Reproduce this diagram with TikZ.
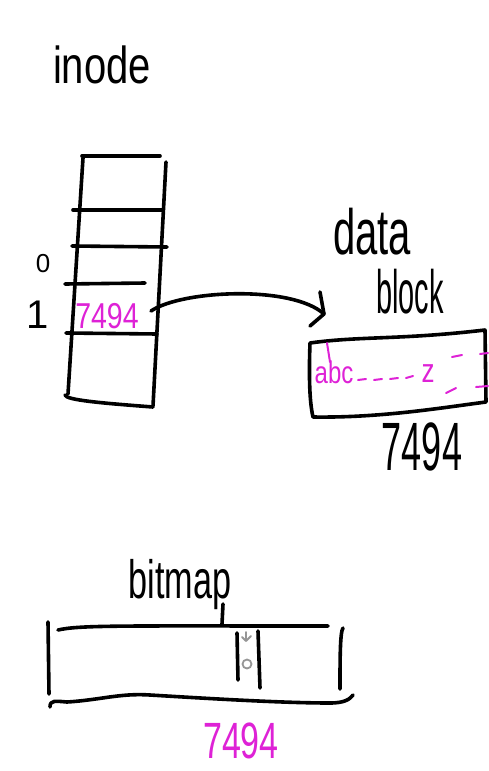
\documentclass[tikz,border=0pt]{standalone}
\usepackage{fontspec}
\setmainfont{Liberation Sans}
\definecolor{penpink}{RGB}{222,34,214}
\definecolor{pengray}{RGB}{150,150,150}
\begin{document}
\begin{tikzpicture}[x=1pt,y=-1pt,
  ink/.style={line width=3.6pt, line cap=round, line join=round, draw=black},
  pinkink/.style={line width=2pt, line cap=round, line join=round, draw=penpink},
  grayink/.style={line width=1.8pt, line cap=round, line join=round, draw=pengray},
  hand/.style={inner sep=0pt, anchor=base, font=\fontsize{#1}{#1}\selectfont},
  pinktext/.style={hand=#1, text=penpink}]
\useasboundingbox (0,0) rectangle (488,771);

% ---- inode table ----
\node[hand=40] (inodelabel) at (102,83) {\scalebox{1}[1.3]{inode}};
\draw[ink] (82,156) -- (160,156);
\draw[ink] (83,158) -- (68,394);
\draw[ink] (166,162) -- (153,406);
\draw[ink] (73,210) -- (163,210);
\draw[ink] (72,246) -- (167,247);
\draw[ink] (65,284) -- (145,283);
\draw[ink] (66,333) -- (157,334);
\draw[ink] (65,395) .. controls (66,400) and (100,403) .. (153,407);
\node[hand=26] (idx0) at (43,272) {0};
\node[hand=40] (idx1) at (38,328) {1};
\node[pinktext=30] (cellval) at (107,328) {\scalebox{0.95}[1.2]{7494}};

% ---- pointer to the data block ----
\coordinate (cellexit) at (151,311);
\coordinate (arrowtip) at (324,314);
\draw[ink] (cellexit) .. controls (182,290) and (292,285) .. (arrowtip);
\draw[ink] (arrowtip) -- ++(-4,-22);
\draw[ink] (arrowtip) -- ++(-14,12);

% ---- data block ----
\node[hand=40] (datalabel) at (372,254) {\scalebox{1}[1.6]{data}};
\node[hand=34] (blocklabel) at (410,313) {\scalebox{0.85}[1.8]{block}};
\draw[ink] (310,343) .. controls (360,336) and (400,340) .. (485,330)
  -- (486,402) .. controls (440,408) and (380,418) .. (313,417)
  .. controls (309,400) and (309,370) .. cycle;
\node[pinktext=24] (abc) at (334,383) {\scalebox{1}[1.3]{abc}};
\draw[pinkink] (327,343) -- (330,362);
\draw[pinkink] (358,380) -- (366,379);
\draw[pinkink] (374,380) -- (382,379);
\draw[pinkink] (390,379) -- (398,378);
\draw[pinkink] (406,378) -- (413,376);
\node[pinktext=26] (zchar) at (428,382) {\scalebox{1}[1.3]{z}};
\draw[pinkink] (452,357) -- (462,355);
\draw[pinkink] (480,354) -- (488,353);
\draw[pinkink] (446,393) -- (456,388);
\draw[pinkink] (476,387) -- (488,386);
\node[hand=36] (blocknum) at (422,470) {\scalebox{1}[1.9]{7494}};

% ---- bitmap ----
\node[hand=36] (bitmaplabel) at (180,598) {\scalebox{0.95}[1.5]{bitmap}};
\draw[ink] (223,604) -- (222,624);
\draw[ink] (58,630) .. controls (80,625) and (120,626) .. (328,626);
\draw[ink] (48,622) -- (49,694);
\draw[ink] (343,628) .. controls (340,632) and (340,660) .. (340,689);
\draw[ink] (50,707) .. controls (50,700) and (55,701) .. (67,702)
  .. controls (100,700) and (120,693) .. (150,695)
  .. controls (200,698) and (280,703) .. (330,703)
  .. controls (345,703) and (350,699) .. (353,695);
\draw[ink] (237,633) -- (238,680);
\draw[ink] (258,631) -- (260,688);
\draw[grayink] (246,632) -- (246,641) (242,637) -- (246,641) -- (251,636);
\draw[grayink] (247,664) circle (4.5);
\node[pinktext=34] (bitnum) at (241,758) {\scalebox{1}[1.5]{7494}};
\end{tikzpicture}
\end{document}
